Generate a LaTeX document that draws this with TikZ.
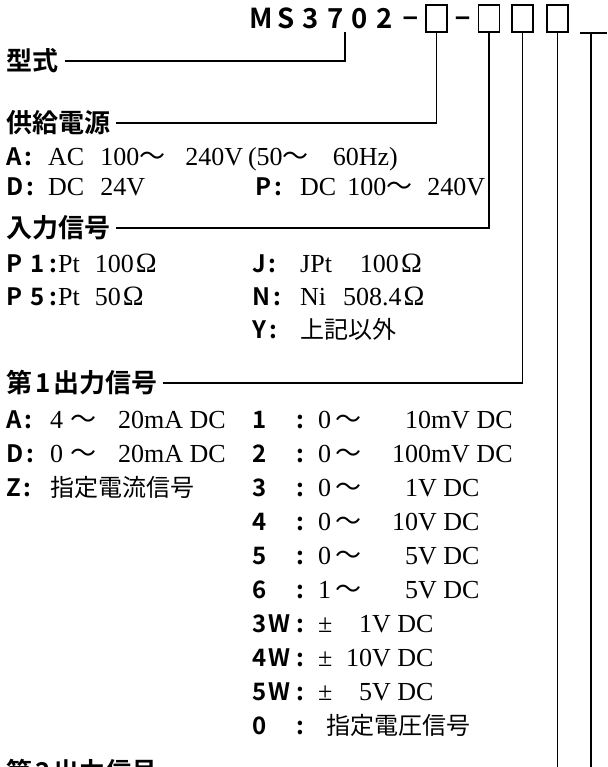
\documentclass[tikz,border=0pt]{standalone}
\usepackage{fontspec}
\setmainfont{Liberation Serif}
\newfontfamily\goth{Noto Sans CJK JP}[BoldFont={Noto Sans CJK JP Bold}]
\newfontfamily\lsans{Liberation Sans}
\newcommand\gb{\goth\bfseries}
\newcommand\fsz[1]{\fontsize{#1}{#1}\selectfont}
\newcommand\wv{{\goth\fsz{26}～}}
\newcommand\hs[1]{\hspace*{#1pt}}
\newcommand\mc[1]{\makebox[24.6pt][c]{#1}}
\newcommand\lab[1]{{\gb\fsz{24}#1\hs{3}:}}
\newcommand\nlab[1]{\makebox[44pt][l]{\gb\fsz{24}#1}{\gb\fsz{24}:}\hs{14}}
\newcommand\jtx[1]{{\goth\fsz{24}#1}}
\newcommand\ohm{\hs{2}{\fsz{28}Ω}}
\begin{document}
\begin{tikzpicture}[x=1pt,y=-1pt,
  conn/.style={line width=1.4pt, black},
  head/.style={anchor=west, inner sep=0pt, font=\gb\fsz{26}},
  row/.style={anchor=base west, inner sep=0pt, font=\fsz{26}},
  codebox/.style={draw, line width=1.4pt, minimum width=21pt, minimum height=27pt, inner sep=0pt},
  dashtxt/.style={anchor=base, inner sep=0pt, font=\lsans\bfseries\fsz{27}}]
\useasboundingbox (0,0) rectangle (607,767);
\clip (0,0) rectangle (607,767);
% model code
\node[anchor=base west, inner sep=0pt, font=\gb\fsz{27.5}] (model) at (249,29) {\mc{M}\mc{S}\mc{3}\mc{7}\mc{0}\mc{2}};
\node[dashtxt] (d1) at (410.5,26) {–};
\node[codebox] (b1) at (436.5,18.5) {};
\node[dashtxt] (d2) at (462.5,26) {–};
\node[codebox] (b2) at (489,18.5) {};
\node[codebox] (b3) at (522.5,18.5) {};
\node[codebox] (b4) at (557.5,18.5) {};
\coordinate (msjoin) at (345,32);
\coordinate (tL) at (580,33);
\coordinate (tR) at (607,33);
\coordinate (tT) at (591,33);
\coordinate (tB) at (591,800);
% headings
\node[head] (kata) at (6,61) {型式};
\node[head] (kyo) at (6,123) {供給電源};
\node[head] (nyu) at (6,228) {入力信号};
\node[head] (dai1) at (6,383) {第\hs{3}1\hs{3}出力信号};
\node[head] (dai2) at (6,772) {第\hs{3}2\hs{3}出力信号};
% connectors
\draw[conn] ([xshift=7pt]kata.east) -| (msjoin);
\draw[conn] ([xshift=6pt]kyo.east) -| (b1.south);
\draw[conn] ([xshift=6pt]nyu.east) -| (b2.south);
\draw[conn] ([xshift=5pt]dai1.east) -| (b3.south);
\draw[conn] ([xshift=5pt]dai2.east) -| (b4.south);
\draw[conn, line width=1.2pt] (tL) -- (tR);
\draw[conn] (tT) -- (tB);
% section 1
\node[row] (s1a) at (6,166) {\makebox[42pt][l]{\lab{A}}AC\hs{16}100\wv\hs{20}240V\hs{5}(50\wv\hs{24}60Hz)};
\node[row] (s1d) at (6,196) {\makebox[42pt][l]{\lab{D}}DC\hs{16}24V};
\node[row] (s1p) at (255,196) {\makebox[45pt][l]{\lab{P}}DC\hs{11}100\wv\hs{15}240V};
% section 2
\node[row] (s2p1) at (6,272) {\makebox[52pt][l]{\gb\fsz{24}P\hs{8}1\hs{5}:}Pt\hs{15}100\ohm};
\node[row] (s2j) at (252,272) {\makebox[48pt][l]{\lab{J}}JPt\hs{28}100\ohm};
\node[row] (s2p5) at (6,305) {\makebox[52pt][l]{\gb\fsz{24}P\hs{8}5\hs{5}:}Pt\hs{15}50\ohm};
\node[row] (s2n) at (252,305) {\makebox[48pt][l]{\lab{N}}Ni\hs{17}508.4\ohm};
\node[row] (s2y) at (252,338) {\makebox[48pt][l]{\lab{Y}}\jtx{上記以外}};
% section 3, column 1
\node[row] (s3a) at (6,428) {\makebox[44pt][l]{\lab{A}}4\hs{7}\wv\hs{22}20mA DC};
\node[row] (s3d) at (6,462) {\makebox[44pt][l]{\lab{D}}0\hs{7}\wv\hs{22}20mA DC};
\node[row] (s3z) at (6,496) {\makebox[44pt][l]{\lab{Z}}\jtx{指定電流信号}};
% section 3, column 2
\node[row] (o1) at (252,428) {\nlab{1}\makebox[74pt][l]{0\hs{4}\wv}\phantom{1}10mV DC};
\node[row] (o2) at (252,462) {\nlab{2}\makebox[74pt][l]{0\hs{4}\wv}100mV DC};
\node[row] (o3) at (252,496) {\nlab{3}\makebox[74pt][l]{0\hs{4}\wv}\phantom{1}1V DC};
\node[row] (o4) at (252,530) {\nlab{4}\makebox[74pt][l]{0\hs{4}\wv}10V DC};
\node[row] (o5) at (252,564) {\nlab{5}\makebox[74pt][l]{0\hs{4}\wv}\phantom{1}5V DC};
\node[row] (o6) at (252,598) {\nlab{6}\makebox[74pt][l]{1\hs{4}\wv}\phantom{1}5V DC};
\node[row] (o3w) at (252,632) {\nlab{3\hs{2}W}\makebox[28pt][l]{±}\phantom{1}1V DC};
\node[row] (o4w) at (252,666) {\nlab{4\hs{2}W}\makebox[28pt][l]{±}10V DC};
\node[row] (o5w) at (252,700) {\nlab{5\hs{2}W}\makebox[28pt][l]{±}\phantom{1}5V DC};
\node[row] (o0) at (252,734) {\nlab{0}\hs{8}\jtx{指定電圧信号}};
\end{tikzpicture}
\end{document}
